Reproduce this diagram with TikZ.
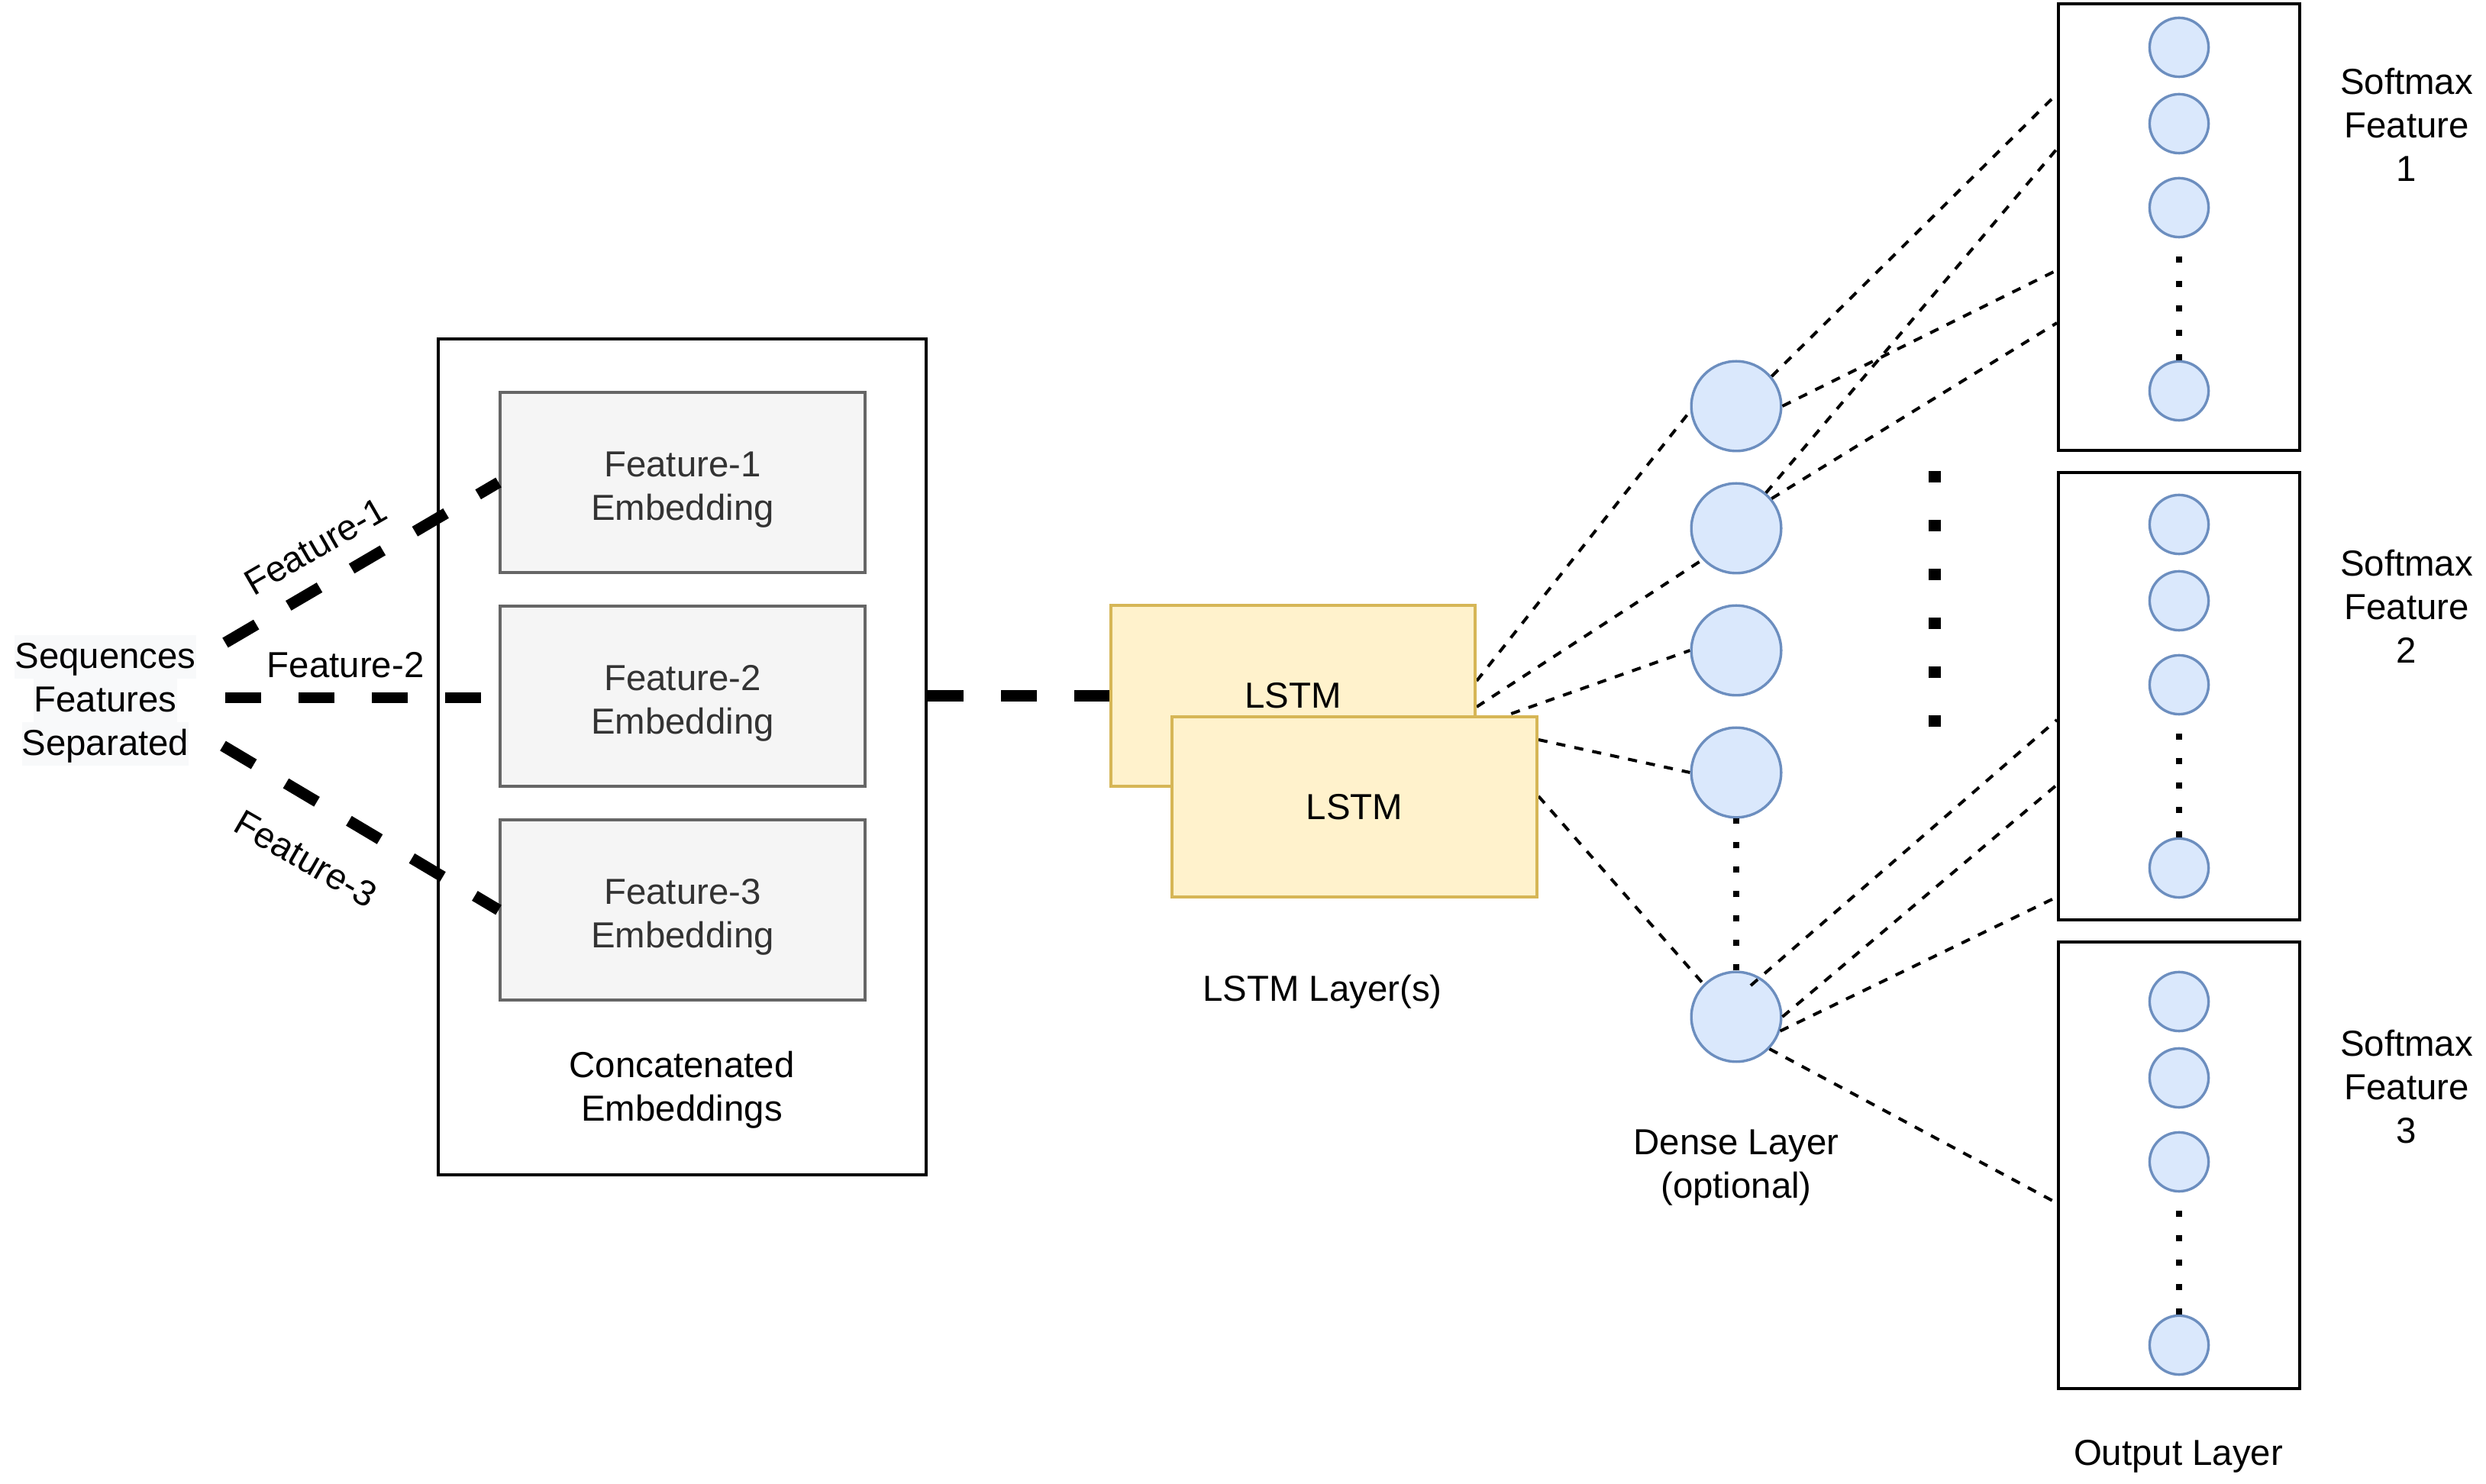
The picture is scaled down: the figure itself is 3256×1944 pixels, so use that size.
\documentclass[tikz,border=0pt]{standalone}
\usepackage{fontspec}
\setmainfont{Liberation Sans}
\usetikzlibrary{calc}
\definecolor{embfill}{HTML}{F5F5F5}
\definecolor{embdraw}{HTML}{666666}
\definecolor{embtext}{HTML}{333333}
\definecolor{lstmfill}{HTML}{FFF2CC}
\definecolor{lstmdraw}{HTML}{D6B656}
\definecolor{nfill}{HTML}{DAE8FC}
\definecolor{ndraw}{HTML}{6C8EBF}
\definecolor{seqbg}{HTML}{F8F9FA}
\pgfdeclarelayer{background}
\pgfsetlayers{background,main}
\newcommand{\seqline}[1]{{\setlength{\fboxsep}{0pt}\colorbox{seqbg}{\rule[-3.3pt]{0pt}{14.2pt}#1}}}
\newcommand{\seqstack}[3]{\vbox{\offinterlineskip\halign{\hfil##\hfil\cr #1\cr #2\cr #3\cr}}}
\newcommand{\twol}[2]{\begin{tabular}{@{}c@{}}#1\\#2\end{tabular}}
\newcommand{\threel}[3]{\begin{tabular}{@{}c@{}}#1\\#2\\#3\end{tabular}}
\newcommand{\toppad}{\rule{0pt}{14.94pt}}
\tikzset{
  lbl/.style={font=\fontsize{11.85pt}{14.2pt}\selectfont, inner sep=0pt},
  framebox/.style={draw=black, line width=1pt, fill=white, rectangle, inner sep=0pt},
  embbox/.style={rectangle, draw=embdraw, fill=embfill, line width=1pt, text=embtext, lbl,
    minimum width=478*0.25pt, minimum height=236*0.25pt},
  lstmbox/.style={rectangle, draw=lstmdraw, fill=lstmfill, line width=1pt, lbl,
    minimum width=477*0.25pt, minimum height=237*0.25pt},
  dense/.style={circle, draw=ndraw, fill=nfill, line width=0.85pt, minimum size=29.4pt, inner sep=0pt},
  outn/.style={circle, draw=ndraw, fill=nfill, line width=0.85pt, minimum size=19.3pt, inner sep=0pt},
  thickdash/.style={line width=3.7pt, dash pattern=on 11.8pt off 12.2pt},
  thindash/.style={line width=1pt, dash pattern=on 3pt off 3pt},
  dotline/.style={line width=2pt, dash pattern=on 2pt off 6pt},
  bigdots/.style={line width=4pt, dash pattern=on 3.75pt off 12.25pt},
}
\begin{document}
\begin{tikzpicture}[x=0.25pt,y=-0.25pt]
\useasboundingbox (0,0) rectangle (3256,1944);
\begin{pgfonlayer}{background}
\fill[white] (0,0) rectangle (3256,1944);
\end{pgfonlayer}

% input text
\node[lbl] (seq) at (138,917.6) {\seqstack{\seqline{Sequences}}{\seqline{Features}}{\seqline{Separated}}};
\coordinate (s1) at (295,842);
\coordinate (s2) at (295,914);
\coordinate (s3) at (292,977);

% concatenated embeddings
\node[framebox, minimum width=639*0.25pt, minimum height=1095*0.25pt] (concat) at (893.5,991.5) {};
\node[embbox] (emb1) at (894,632) {\twol{\toppad Feature-1}{Embedding}};
\node[embbox] (emb2) at (894,912) {\twol{\toppad Feature-2}{Embedding}};
\node[embbox] (emb3) at (894,1192) {\twol{\toppad Feature-3}{Embedding}};
\node[lbl] (concatlbl) at (893,1428.5) {\twol{Concatenated}{Embeddings}};

% feature labels
\node[lbl, rotate=30] (f1lbl) at (413,716) {Feature-1};
\node[lbl, anchor=base] (f2lbl) at (452.7,888) {Feature-2};
\node[lbl, rotate=-30] (f3lbl) at (401,1125) {Feature-3};

% LSTM
\node[lstmbox] (lstmA) at (1693.5,911.5) {LSTM};
\node[lstmbox, minimum width=478*0.25pt, minimum height=236*0.25pt] (lstmB) at (1774,1057) {LSTM};
\node[lbl, anchor=base] (lstmlbl) at (1732,1312) {LSTM Layer(s)};

% dense layer
\node[dense] (e1) at (2274,532) {};
\node[dense] (e2) at (2274,692) {};
\node[dense] (e3) at (2274,852) {};
\node[dense] (e4) at (2274,1012) {};
\node[dense] (e5) at (2274,1332) {};
\node[lbl] (denselbl) at (2274,1530) {\twol{Dense Layer}{(optional)}};

% output boxes
\node[framebox, minimum width=316*0.25pt, minimum height=585*0.25pt] (B1) at (2854,297.5) {};
\node[framebox, minimum width=316*0.25pt, minimum height=586*0.25pt] (B2) at (2854,912) {};
\node[framebox, minimum width=316*0.25pt, minimum height=585*0.25pt] (B3) at (2854,1526.5) {};
\node[outn] (p11) at (2854,62) {};
\node[outn] (p12) at (2854,162) {};
\node[outn] (p13) at (2854,272) {};
\node[outn] (p14) at (2854,512) {};
\node[outn] (p21) at (2854,687) {};
\node[outn] (p22) at (2854,787) {};
\node[outn] (p23) at (2854,897) {};
\node[outn] (p24) at (2854,1137) {};
\node[outn] (p31) at (2854,1312) {};
\node[outn] (p32) at (2854,1412) {};
\node[outn] (p33) at (2854,1522) {};
\node[outn] (p34) at (2854,1762) {};
\node[lbl] (sm1) at (3152,168.9) {\threel{Softmax}{Feature}{1}};
\node[lbl] (sm2) at (3152,800.4) {\threel{Softmax}{Feature}{2}};
\node[lbl] (sm3) at (3152,1429.4) {\threel{Softmax}{Feature}{3}};
\node[lbl, anchor=base] (outlbl) at (2853,1919) {Output Layer};

% LSTM to dense (behind the LSTM boxes)
\begin{pgfonlayer}{background}
\draw[thindash] ($(lstmA.east)+(0,-19.5)$) -- (e1.186);
\draw[thindash] ($(lstmA.east)+(0,14.5)$) -- (e2.223);
\draw[thindash] ($(lstmA.east)+(0,39.5)$) -- (e3.west);
\draw[thindash] ($(lstmB.east)+(0,-88)$) -- (e4.west);
\draw[thindash] ($(lstmB.east)+(0,-14)$) -- (e5.135);
\end{pgfonlayer}

% thick input connectors
\draw[thickdash] (s1) -- (emb1.west);
\draw[thickdash] (s2) -- (s2 -| emb2.west);
\draw[thickdash] (s3) -- (emb3.west);
\draw[thickdash] (concat.east |- lstmA.west) -- (lstmA.west);

% dense to output
\coordinate (e5s) at ($(e5.center)+(19,-41)$);
\draw[thindash] (e1.40) -- ($(B1.west)+(0,-174.5)$);
\draw[thindash] (e1.east) -- ($(B1.west)+(0,56.5)$);
\draw[thindash] (e2.50) -- ($(B1.west)+(0,-102.5)$);
\draw[thindash] (e2.40) -- ($(B1.west)+(0,125.5)$);
\draw[thindash] (e5s) -- ($(B2.west)+(0,31)$);
\draw[thindash] (e5.east) -- ($(B2.west)+(0,116)$);
\draw[thindash] (e5.-18) -- ($(B2.west)+(0,263)$);
\draw[thindash] (e5.-44) -- ($(B3.west)+(0,49.5)$);

% dotted continuations
\draw[dotline] (e5.north) -- (e4.south);
\draw[dotline] (p14.north) -- (p13.south);
\draw[dotline] (p24.north) -- (p23.south);
\draw[dotline] (p34.north) -- (p33.south);
\coordinate (dtop) at (2534,617);
\coordinate (dbot) at (2534,960);
\draw[bigdots] (dtop) -- (dbot);
\end{tikzpicture}
\end{document}
